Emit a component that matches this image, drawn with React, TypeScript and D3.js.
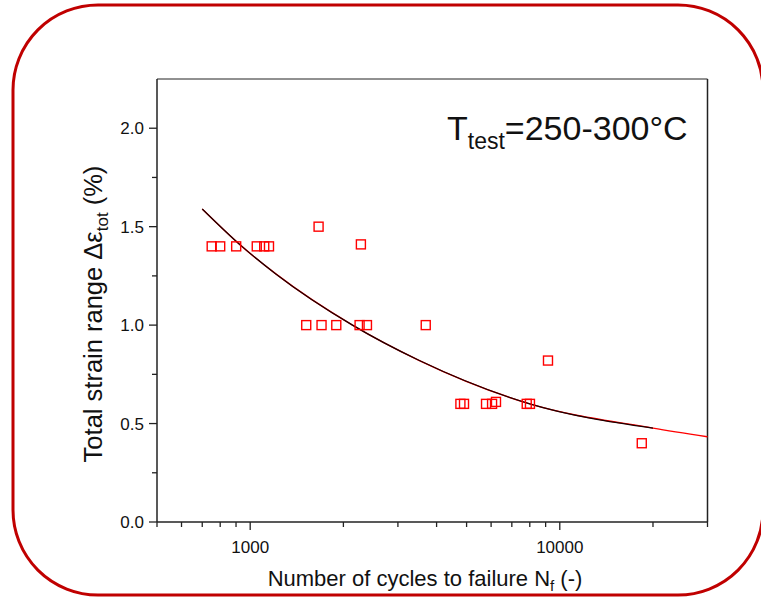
import React from 'react';
import * as d3 from 'd3';

// measured points (cycles to failure, total strain range %)
const cycles = [751, 800, 901, 1050, 1110, 1150, 1663, 2278, 1517, 1700, 1897, 2256, 2383, 3690, 4775, 4905, 5778, 6043, 6222, 7820, 8010, 9160, 18400];
const strain = [1.4, 1.4, 1.4, 1.4, 1.4, 1.4, 1.5, 1.41, 1.0, 1.0, 1.0, 1.0, 1.0, 1.0, 0.6, 0.6, 0.6, 0.6, 0.61, 0.6, 0.6, 0.82, 0.4];

// fit curve
const fitCycles = [700, 940, 1210, 2140, 3520, 8000, 20000, 30000];
const fitStrain = [1.59, 1.4, 1.26, 1.0, 0.82, 0.6, 0.477, 0.433];

const xMajorTicks = [1000, 10000];
const xMinorTicks = [500, 600, 700, 800, 900, 2000, 3000, 4000, 5000, 6000, 7000, 8000, 9000, 20000, 30000];
const yMajorTicks = [0, 0.5, 1.0, 1.5, 2.0];
const yMinorTicks = [0.25, 0.75, 1.25, 1.75];

const W = 761;
const H = 597;
const left = 157, right = 707.5, top = 79, bottom = 522;
const font = '"Liberation Sans", Arial, sans-serif';

const App = () => {
  const x = d3.scaleLog().domain([500, 30000]).range([left, right]);
  const y = d3.scaleLinear().domain([0, 2.25]).range([bottom, top]);

  const fit = fitCycles.map((c, i) => [c, fitStrain[i]] as [number, number]);
  const line = d3.line<[number, number]>()
    .x(d => x(d[0]))
    .y(d => y(d[1]))
    .curve(d3.curveMonotoneX);

  const s = 9; // marker size

  return (
    <svg width={W} height={H} style={{ position: 'absolute', left: 0, top: 0 }} fontFamily={font}>
      <rect x={0} y={0} width={W} height={H} fill="white" />
      {/* red rounded border */}
      <rect x={13} y={5} width={750} height={590} rx={85} ry={85} fill="none" stroke="#c00000" strokeWidth={3} />

      {/* frame */}
      <line x1={left} x2={right} y1={top} y2={top} stroke="#222" strokeWidth={1} />
      <line x1={right} x2={right} y1={top} y2={bottom} stroke="#222" strokeWidth={1.5} />
      <line x1={left} x2={left} y1={top} y2={bottom} stroke="#222" strokeWidth={1.5} />
      <line x1={left} x2={right} y1={bottom} y2={bottom} stroke="#222" strokeWidth={1.5} />

      {/* x ticks */}
      {xMinorTicks.map(t => (
        <line key={'xm' + t} x1={x(t)} x2={x(t)} y1={bottom} y2={bottom + 5} stroke="#222" strokeWidth={1.3} />
      ))}
      {xMajorTicks.map(t => (
        <g key={'xM' + t}>
          <line x1={x(t)} x2={x(t)} y1={bottom} y2={bottom + 8} stroke="#222" strokeWidth={1.3} />
          <text x={x(t)} y={553} textAnchor="middle" fontSize={17} fill="#111">{t}</text>
        </g>
      ))}

      {/* y ticks */}
      {yMinorTicks.map(t => (
        <line key={'ym' + t} x1={left - 5} x2={left} y1={y(t)} y2={y(t)} stroke="#222" strokeWidth={1.3} />
      ))}
      {yMajorTicks.map(t => (
        <g key={'yM' + t}>
          <line x1={left - 8} x2={left} y1={y(t)} y2={y(t)} stroke="#222" strokeWidth={1.3} />
          <text x={144} y={y(t)} dy="0.35em" textAnchor="end" fontSize={17} fill="#111">{t.toFixed(1)}</text>
        </g>
      ))}

      {/* fit line: red full length, black overlay */}
      <path d={line(fit) || ''} fill="none" stroke="#ff0000" strokeWidth={1.4} />
      <path d={line(fit.filter(d => d[0] <= 20000)) || ''} fill="none" stroke="#1a0000" strokeWidth={1.2} />

      {/* data markers */}
      {cycles.map((c, i) => (
        <rect key={i} x={x(c) - s / 2} y={y(strain[i]) - s / 2} width={s} height={s}
          fill="none" stroke="#ff0000" strokeWidth={1.4} />
      ))}

      {/* annotation */}
      <text x={447} y={140} fontSize={34} fill="#111">
        T<tspan fontSize={23} dy={9}>test</tspan><tspan dy={-9}>=250-300°C</tspan>
      </text>

      {/* axis titles */}
      <text x={425} y={586} textAnchor="middle" fontSize={22} fill="#111">
        Number of cycles to failure N<tspan fontSize={15} dy={5}>f</tspan><tspan dy={-5}> (-)</tspan>
      </text>
      <text transform="translate(102,314) rotate(-90)" textAnchor="middle" fontSize={25.5} fill="#111">
        Total strain range Δε<tspan fontSize={17} dy={6}>tot</tspan><tspan dy={-6}> (%)</tspan>
      </text>
    </svg>
  );
};

export default App;
